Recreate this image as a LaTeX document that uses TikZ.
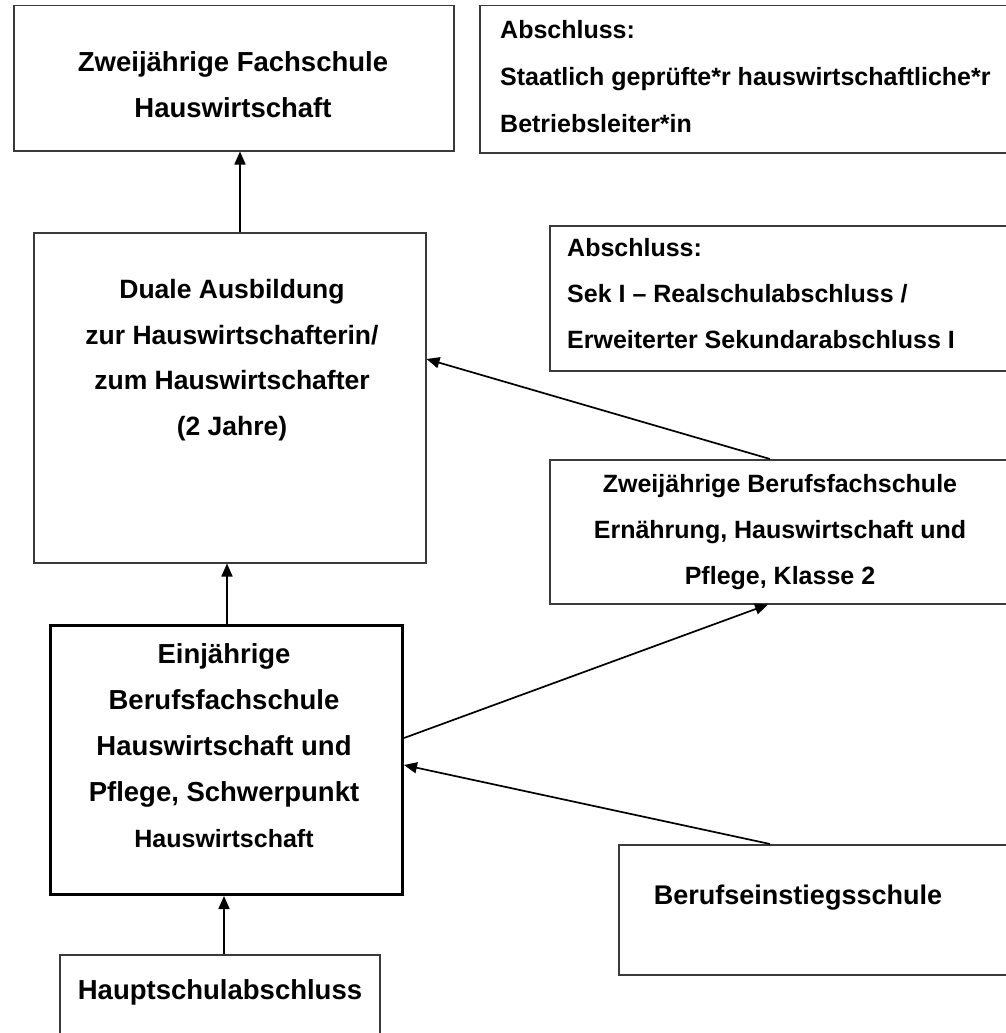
\documentclass[tikz,border=0pt]{standalone}
\usepackage{fontspec}
\setmainfont{Liberation Sans}
\usetikzlibrary{arrows.meta}
\definecolor{boxgray}{HTML}{3A3A3A}
\begin{document}
\begin{tikzpicture}[x=1pt,y=-1pt,
  box/.style={draw=boxgray, line width=1.5pt, rectangle, inner sep=0pt, anchor=north west},
  thickbox/.style={draw=black, line width=3pt, rectangle, inner sep=0pt, anchor=north west},
  conn/.style={draw=black, line width=1.7pt, -{Triangle[length=13pt,width=11pt]}},
  bigtxt/.style={font=\bfseries\fontsize{27.5}{46}\selectfont, align=center, inner sep=0pt},
  smalltxt/.style={font=\bfseries\fontsize{25}{46}\selectfont, align=center, inner sep=0pt},
  lefttxt/.style={font=\bfseries\fontsize{25}{47}\selectfont, align=left, inner sep=0pt, anchor=west}
]
\clip (0,0) rectangle (1006,1033);
\fill[white] (0,0) rectangle (1006,1033);

% boxes
\node[box, minimum width=440pt, minimum height=145pt] (b1) at (13,5) {};
\node[box, minimum width=551pt, minimum height=147pt] (b2) at (479,5) {};
\node[box, minimum width=392pt, minimum height=330pt] (b3) at (33,232) {};
\node[box, minimum width=481pt, minimum height=145pt] (b4) at (549,225) {};
\node[box, minimum width=481pt, minimum height=144pt] (b5) at (549,459) {};
\node[thickbox, minimum width=352pt, minimum height=269pt] (b6) at (49,624) {};
\node[box, minimum width=412pt, minimum height=130pt] (b7) at (618,844) {};
\node[box, minimum width=320pt, minimum height=96pt] (b8) at (59,954) {};

% texts
\node[bigtxt] (t1) at (233,85) {Zweijährige Fachschule\\Hauswirtschaft};
\node[lefttxt] (t2) at (500,77) {Abschluss:\\Staatlich geprüfte*r hauswirtschaftliche*r\\Betriebsleiter*in};
\node[bigtxt, font=\bfseries\fontsize{26.5}{45.5}\selectfont] (t3) at (232,360) {Duale Ausbildung\\zur Hauswirtschafterin/\\zum Hauswirtschafter\\(2 Jahre)};
\node[lefttxt, font=\bfseries\fontsize{25}{46}\selectfont] (t4) at (567,294) {Abschluss:\\Sek I – Realschulabschluss /\\Erweiterter Sekundarabschluss I};
\node[smalltxt] (t5) at (780,532) {Zweijährige Berufsfachschule\\Ernährung, Hauswirtschaft und\\Pflege, Klasse 2};
\node[bigtxt] (t6) at (224,746) {Einjährige\\Berufsfachschule\\Hauswirtschaft und\\Pflege, Schwerpunkt\\{\fontsize{25}{46}\selectfont Hauswirtschaft}};
\node[smalltxt, font=\bfseries\fontsize{27}{46}\selectfont] (t7) at (798,898) {Berufseinstiegsschule};
\node[bigtxt] (t8) at (220,992) {Hauptschulabschluss};

% connectors
\draw[conn] (240,0 |- b3.north) -- (240,0 |- b1.south);
\draw[conn] (227,0 |- b6.north) -- (227,0 |- b3.south);
\draw[conn] (224,0 |- b8.north) -- (224,0 |- b6.south);
\draw[conn] (770,0 |- b5.north) -- (b3.east |- 0,359);
\draw[conn] (b6.east |- 0,738) -- (768,0 |- b5.south);
\draw[conn] (770,0 |- b7.north) -- (b6.east |- 0,765);
\end{tikzpicture}
\end{document}
